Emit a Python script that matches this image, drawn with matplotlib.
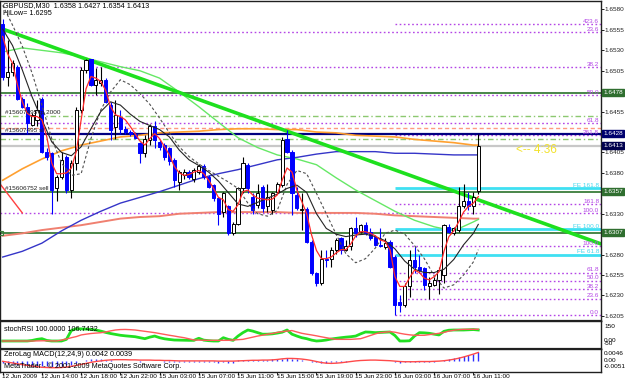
import numpy as np
import matplotlib
matplotlib.use("Agg")
import matplotlib.pyplot as plt
from matplotlib.transforms import blended_transform_factory as blend

plt.rcParams['font.family'] = ['Liberation Sans', 'DejaVu Sans']

# ---------------- data ----------------
title_text = "GBPUSD,M30  1.6358 1.6427 1.6354 1.6413"
hilow_text = "HiLow= 1.6295"
time_labels = ["12 Jun 2009", "12 Jun 14:00", "12 Jun 18:00", "12 Jun 22:00",
               "15 Jun 03:00", "15 Jun 07:00", "15 Jun 11:00", "15 Jun 15:00",
               "15 Jun 19:00", "15 Jun 23:00", "16 Jun 03:00", "16 Jun 07:00",
               "16 Jun 11:00"]

opens = [1.6562,1.6497,1.6504,1.6510,1.6471,1.6461,1.6439,1.6445,1.6471,1.6406,
 1.6404,1.6361,1.6375,1.6400,1.6359,1.6392,1.6457,1.6506,1.6519,1.6487,
 1.6490,1.6494,1.6463,1.6436,1.6449,1.6434,1.6430,1.6428,1.6416,1.6404,
 1.6420,1.6438,1.6418,1.6414,1.6410,1.6396,1.6369,1.6377,1.6381,1.6373,
 1.6381,1.6388,1.6375,1.6365,1.6349,1.6332,1.6339,1.6306,1.6318,1.6361,
 1.6390,1.6351,1.6341,1.6363,1.6339,1.6334,1.6357,1.6365,1.6422,1.6406,
 1.6353,1.6334,1.6336,1.6296,1.6257,1.6245,1.6275,1.6275,1.6285,1.6300,
 1.6286,1.6290,1.6312,1.6308,1.6316,1.6308,1.6302,1.6292,1.6289,1.6296,
 1.6277,1.6222,1.6218,1.6241,1.6273,1.6265,1.6263,1.6241,1.6243,1.6249,
 1.6255,1.6314,1.6306,1.6310,1.6339,1.6345,1.6339,1.6358]
highs = [1.6568,1.6543,1.6518,1.6512,1.6473,1.6465,1.6453,1.6469,1.6473,1.6410,
 1.6406,1.6377,1.6406,1.6402,1.6396,1.6461,1.6510,1.6520,1.6520,1.6508,
 1.6510,1.6496,1.6467,1.6469,1.6457,1.6437,1.6432,1.6430,1.6418,1.6426,
 1.6440,1.6443,1.6420,1.6416,1.6412,1.6398,1.6383,1.6385,1.6383,1.6386,
 1.6391,1.6391,1.6377,1.6367,1.6351,1.6357,1.6341,1.6320,1.6363,1.6400,
 1.6392,1.6355,1.6367,1.6365,1.6367,1.6357,1.6369,1.6424,1.6432,1.6408,
 1.6363,1.6355,1.6338,1.6298,1.6259,1.6285,1.6285,1.6289,1.6300,1.6302,
 1.6298,1.6314,1.6326,1.6318,1.6320,1.6312,1.6304,1.6312,1.6300,1.6298,
 1.6279,1.6230,1.6245,1.6285,1.6290,1.6279,1.6265,1.6253,1.6253,1.6265,
 1.6318,1.6318,1.6314,1.6363,1.6367,1.6357,1.6357,1.6427]
lows = [1.6494,1.6486,1.6498,1.6469,1.6459,1.6428,1.6437,1.6437,1.6404,1.6396,
 1.6330,1.6345,1.6373,1.6355,1.6349,1.6384,1.6453,1.6502,1.6486,1.6475,
 1.6486,1.6465,1.6420,1.6422,1.6428,1.6428,1.6425,1.6421,1.6392,1.6400,
 1.6414,1.6410,1.6408,1.6396,1.6390,1.6363,1.6359,1.6373,1.6373,1.6369,
 1.6379,1.6373,1.6361,1.6345,1.6316,1.6326,1.6304,1.6304,1.6316,1.6355,
 1.6355,1.6330,1.6337,1.6332,1.6332,1.6330,1.6355,1.6363,1.6404,1.6328,
 1.6334,1.6310,1.6294,1.6255,1.6241,1.6243,1.6265,1.6265,1.6281,1.6281,
 1.6284,1.6286,1.6302,1.6306,1.6304,1.6298,1.6290,1.6289,1.6287,1.6263,
 1.6206,1.6210,1.6216,1.6228,1.6257,1.6257,1.6237,1.6226,1.6241,1.6232,
 1.6245,1.6306,1.6304,1.6308,1.6337,1.6335,1.6330,1.6354]
closes = [1.6497,1.6504,1.6514,1.6471,1.6461,1.6441,1.6451,1.6457,1.6406,1.6400,
 1.6359,1.6375,1.6396,1.6359,1.6392,1.6457,1.6506,1.6518,1.6487,1.6494,
 1.6494,1.6467,1.6432,1.6451,1.6434,1.6430,1.6428,1.6423,1.6404,1.6422,
 1.6438,1.6420,1.6412,1.6400,1.6394,1.6371,1.6381,1.6381,1.6375,1.6383,
 1.6389,1.6375,1.6363,1.6349,1.6330,1.6355,1.6306,1.6318,1.6361,1.6392,
 1.6361,1.6334,1.6355,1.6337,1.6351,1.6355,1.6367,1.6420,1.6406,1.6355,
 1.6337,1.6336,1.6296,1.6257,1.6245,1.6275,1.6273,1.6285,1.6298,1.6285,
 1.6290,1.6312,1.6306,1.6316,1.6306,1.6300,1.6292,1.6291,1.6294,1.6265,
 1.6218,1.6218,1.6241,1.6273,1.6265,1.6261,1.6243,1.6245,1.6249,1.6261,
 1.6316,1.6308,1.6312,1.6339,1.6345,1.6339,1.6351,1.6413]

# fast moving average (every bar)
ma_fast = [1.6547,1.6526,1.6514,1.6488,1.6467,1.6453,1.6449,1.6449,1.6445,1.6424,
 1.6392,1.6379,1.6379,1.6380,1.6386,1.6406,1.6445,1.6483,1.6498,1.6496,
 1.6492,1.6481,1.6461,1.6451,1.6449,1.6445,1.6437,1.6428,1.6419,1.6414,
 1.6422,1.6428,1.6422,1.6412,1.6402,1.6388,1.6380,1.6377,1.6378,1.6381,
 1.6383,1.6379,1.6371,1.6361,1.6350,1.6347,1.6335,1.6333,1.6341,1.6357,
 1.6359,1.6353,1.6349,1.6348,1.6347,1.6348,1.6353,1.6371,1.6386,1.6381,
 1.6359,1.6345,1.6330,1.6304,1.6285,1.6275,1.6275,1.6277,1.6282,1.6286,
 1.6286,1.6293,1.6303,1.6308,1.6308,1.6306,1.6303,1.6298,1.6296,1.6286,
 1.6253,1.6241,1.6241,1.6252,1.6261,1.6258,1.6251,1.6249,1.6253,1.6259,
 1.6284,1.6302,1.6309,1.6320,1.6332,1.6339,1.6343,1.6351]

# medium averages, read every second bar (bars 0,2,...,96,97)
ma_mid_black = [1.6556,1.6536,1.6506,1.6473,1.6445,1.6418,1.6405,1.6401,1.6412,1.6434,
 1.6455,1.6467,1.6463,1.6452,1.6443,1.6438,1.6433,1.6424,1.6408,1.6396,
 1.6389,1.6381,1.6370,1.6356,1.6342,1.6339,1.6344,1.6349,1.6354,1.6361,
 1.6365,1.6356,1.6330,1.6312,1.6305,1.6302,1.6304,1.6305,1.6302,1.6297,
 1.6287,1.6272,1.6262,1.6258,1.6258,1.6262,1.6274,1.6292,1.6306,1.6317]
ma_mid_dashed = [1.6585,1.6561,1.6535,1.6502,1.6463,1.6422,1.6392,1.6377,1.6379,1.6422,
 1.6457,1.6479,1.6494,1.6488,1.6477,1.6464,1.6447,1.6429,1.6412,1.6400,
 1.6391,1.6383,1.6376,1.6369,1.6361,1.6343,1.6330,1.6327,1.6334,1.6366,
 1.6383,1.6379,1.6355,1.6330,1.6305,1.6281,1.6270,1.6275,1.6288,1.6306,
 1.6310,1.6305,1.6291,1.6275,1.6254,1.6239,1.6243,1.6255,1.6271,1.6286]

# slow averages, read every fourth bar (bars 0,4,...,96,97)
ma_slow_green = [1.6528,1.6533,1.6530,1.6527,1.6522,1.6516,1.6510,1.6505,1.6496,1.6479,
 1.6461,1.6442,1.6423,1.6411,1.6402,1.6397,1.6390,1.6374,1.6359,1.6346,
 1.6333,1.6322,1.6314,1.6309,1.6320,1.6323]
ma_slow_orange = [1.6371,1.6385,1.6397,1.6407,1.6414,1.6419,1.6424,1.6426,1.6429,1.6430,
 1.6431,1.6433,1.6434,1.6434,1.6433,1.6433,1.6430,1.6429,1.6426,1.6425,
 1.6424,1.6421,1.6419,1.6417,1.6414,1.6414]
ma_slow_salmon = [1.6303,1.6306,1.6310,1.6313,1.6316,1.6320,1.6324,1.6326,1.6327,1.6330,
 1.6331,1.6332,1.6332,1.6332,1.6332,1.6331,1.6331,1.6331,1.6331,1.6330,
 1.6328,1.6327,1.6326,1.6325,1.6324,1.6324]
ma_slow_blue = [1.6277,1.6284,1.6294,1.6309,1.6322,1.6333,1.6343,1.6350,1.6357,1.6365,
 1.6373,1.6379,1.6384,1.6390,1.6396,1.6399,1.6403,1.6406,1.6406,1.6406,
 1.6404,1.6404,1.6403,1.6402,1.6402,1.6402]

red_seg_bars = [-0.6, 4.0]
red_seg_prices = [1.6367, 1.6331]

trend_bars = [0, 97]
trend_prices = [1.6556, 1.6347]

fib_upper_labels = ["23.6", "38.2", "50.0", "61.8", "100.0"]
fib_upper_prices = [1.6552, 1.6509, 1.6475, 1.6441, 1.6331]
fib_lower_labels = ["0.0", "23.6", "38.2", "50.0", "61.8", "100.0", "161.8", "261.8", "423.6"]
fib_lower_prices = [1.6206, 1.6226, 1.6238, 1.6248, 1.6258, 1.6290, 1.6342, 1.6426, 1.6562]
fib_lower_start = 80
fe_labels = ["FE 61.8", "FE 100.0", "FE 161.8"]
fe_prices = [1.6280, 1.6311, 1.6361]

order_green = [1.6478, 1.6357, 1.6307]
sl_price = 1.6428
bid_price = 1.6413
tp_dashdot = [1.6450, 1.6422]
pending_dashed = 1.6435
order_texts = ["#15607495 tp 2000", "#15607495 sl", "#15606752 sell"]
order_text_prices = [1.6450, 1.6428, 1.6357]

box_prices = [1.6478, 1.6428, 1.6413, 1.6357, 1.6307]
price_ticks = [1.6580, 1.6555, 1.6530, 1.6505, 1.6455, 1.6405, 1.6380,
               1.6330, 1.6280, 1.6255, 1.6230, 1.6205]

stoch_green = [0,0,0,0,0,0,5,15,21,5,
 0,0,0,15,95,112,110,108,105,100,
 90,78,68,60,52,47,43,39,30,21,
 35,45,30,20,14,9,8,7,6,6,
 25,8,3,0,0,30,15,6,45,76,
 100,90,76,62,62,65,72,80,100,62,
 45,30,21,8,0,3,9,18,24,30,
 35,39,45,65,82,80,76,78,80,82,
 50,0,0,2,45,76,74,70,62,55,
 88,98,100,100,100,102,104,100]
stoch_red = [0,0,0,0,0,0,0,1,2,2,
 1,0,8,18,30,40,55,62,68,72,
 75,82,92,100,104,105,103,100,94,88,
 82,76,68,60,52,45,37,30,20,9,
 8,7,6,6,6,6,6,9,12,15,
 25,35,45,53,62,68,78,85,90,95,
 82,70,62,55,47,38,30,22,15,15,
 15,15,18,21,35,50,65,76,80,85,
 80,70,62,56,52,52,52,58,64,70,
 78,90,98,103,106,106,106,106.7]

macd_main = [-12,-15,-18,-20,-22,-24,-25,-26,-28,-28,
 -30,-28,-26,-24,-20,-12,-4,3,6,6,
 5,3,1,0,-1,-2,-3,-4,-5,-4,
 -3,-3,-4,-5,-6,-8,-8,-8,-7,-6,
 -5,-5,-6,-8,-10,-9,-11,-10,1,4,
 4,3,3,3,4,5,7,8,10,8,
 6,4,0,-5,-9,-10,-10,-9,-7,-6,
 -5,-3,-2,-1,-1,-1,-2,-2,-2,-3,
 -8,-10,-9,-7,-6,-6,-6,-6,-5,-4,
 3,8,12,18,24,28,32,42]
macd_signal = [-4,-8,-12,-16,-20,-24,-27,-30,-33,-34,
 -35,-35,-34,-32,-28,-24,-19,-14,-9,-5,
 -2,1,3,4,4,4,3,3,2,2,
 2,1,1,0,0,-1,-2,-2,-2,-2,
 -2,-2,-2,-2,-3,-3,-3,-3,-2,-1,
 0,1,1,2,2,3,5,8,10,10,
 9,7,4,0,-5,-10,-13,-14,-13,-11,
 -8,-5,-2,0,1,2,2,1,0,-1,
 -3,-5,-6,-6,-6,-5,-5,-5,-4,-3,
 -1,2,6,11,17,24,31,39]
macd_scale = 1e-4

# ---------------- figure layout ----------------
W, H = 625, 382
FS = 4.6
fig = plt.figure(figsize=(W / 100, H / 100), dpi=100)
fig.patch.set_facecolor('white')


def rect(x0, y0, x1, y1):
    return [x0 / W, 1 - y1 / H, (x1 - x0) / W, (y1 - y0) / H]


ax = fig.add_axes(rect(0, 1, 601, 321))
ax_st = fig.add_axes(rect(0, 321, 601, 349))
ax_md = fig.add_axes(rect(0, 349, 601, 372))

XL = (-0.55, 122.03)
for a in (ax, ax_st, ax_md):
    a.set_xlim(*XL)
    a.set_facecolor('white')
    for s in a.spines.values():
        s.set_color('#202020')
        s.set_linewidth(1.0)
    a.set_xticks([])
ax.spines['bottom'].set_linewidth(1.6)
ax_st.spines['bottom'].set_linewidth(1.6)

ax.set_ylim(1.61987, 1.65904)

N = len(closes)
xb = np.arange(N)
o, h, l, c = (np.array(v) for v in (opens, highs, lows, closes))
bull = c >= o
bear = ~bull

# horizontal objects
right = XL[1]
fib_col = '#b446e6'
for p in fib_upper_prices:
    ax.hlines(p, XL[0], right, colors=fib_col, linestyles=(0, (1.2, 1.8)), lw=1.0, zorder=1.5)
for p in fib_lower_prices:
    ax.hlines(p, fib_lower_start, right, colors=fib_col, linestyles=(0, (1.2, 1.8)), lw=1.0, zorder=1.5)
for p in fe_prices:
    ax.hlines(p, fib_lower_start, right, colors='#3fe0f2', lw=2.0, zorder=1.6)
for p in order_green:
    ax.hlines(p, XL[0], right, colors='#3a7d3a', lw=1.3, zorder=1.7)
for p in tp_dashdot:
    ax.hlines(p, XL[0], right, colors='#8cc870', linestyles=(0, (4, 2, 1, 2)), lw=1.0, zorder=1.6)
ax.hlines(pending_dashed, XL[0], right, colors='#ff9a80', linestyles=(0, (3, 2)), lw=1.0, zorder=1.6)
ax.hlines(sl_price, XL[0], right, colors='#000080', lw=1.6, zorder=1.8)
ax.hlines(bid_price, XL[0], right, colors='#c8c8c8', lw=1.6, zorder=1.5)

# long averages
sb = np.r_[np.arange(0, N - 1, 4), N - 1]
mb = np.r_[np.arange(0, N - 1, 2), N - 1]
ax.plot(sb, ma_slow_salmon, color='#f08070', lw=1.4, zorder=2.2)
ax.plot(sb, ma_slow_orange, color='#ffa030', lw=1.2, zorder=2.2)
ax.plot(sb, ma_slow_blue, color='#3535c8', lw=1.0, zorder=2.2)
ax.plot(sb, ma_slow_green, color='#66e866', lw=1.0, zorder=2.2)

# trend line
ax.axline((trend_bars[0], trend_prices[0]), (trend_bars[1], trend_prices[1]),
          color='#1ee01e', lw=2.6, zorder=2.4)
ax.plot(red_seg_bars, red_seg_prices, color='#ff4040', lw=1.0, zorder=2.3)

# candles
ax.vlines(xb[bull], l[bull], h[bull], color='#000000', lw=0.8, zorder=3)
ax.vlines(xb[bear], l[bear], h[bear], color='#0000ff', lw=0.8, zorder=3)
ax.bar(xb[bull], np.maximum(c - o, 0.00004)[bull], bottom=o[bull], width=0.64,
       facecolor='white', edgecolor='black', lw=0.7, zorder=3.1)
ax.bar(xb[bear], (o - c)[bear], bottom=c[bear], width=0.64,
       facecolor='#0000ff', edgecolor='#0000ff', lw=0.7, zorder=3.1)

# short averages
ax.plot(mb, ma_mid_dashed, color='#505050', lw=0.8, ls=(0, (2.5, 2)), zorder=4)
ax.plot(mb, ma_mid_black, color='#252525', lw=0.8, zorder=4)
ax.plot(xb, ma_fast, color='#ff2a2a', lw=0.9, zorder=4.1)

# labels on the chart
tr_r = blend(ax.transAxes, ax.transData)
for lab, p in zip(fib_upper_labels, fib_upper_prices):
    ax.text(0.997, p + 0.00003, lab, transform=tr_r, ha='right', va='bottom',
            fontsize=FS, color=fib_col, zorder=5)
for lab, p in zip(fib_lower_labels, fib_lower_prices):
    ax.text(0.997, p + 0.00003, lab, transform=tr_r, ha='right', va='bottom',
            fontsize=FS, color=fib_col, zorder=5)
for lab, p in zip(fe_labels, fe_prices):
    ax.text(0.997, p + 0.00005, lab, transform=tr_r, ha='right', va='bottom',
            fontsize=FS, color='#3fd8ee', zorder=5)
for lab, p in zip(order_texts, order_text_prices):
    ax.text(0.5, p + 0.00004, lab, ha='left', va='bottom', fontsize=FS,
            color='#202020', zorder=5)
ax.plot([-0.25], [order_green[2]], marker='s', ms=2.5, mfc='none', mec='#3a7d3a',
        mew=0.8, clip_on=False, zorder=5)
ax.text(104.6, bid_price - 0.0005, "<-- 4:36", color='#f2e22c', fontsize=8.5,
        ha='left', va='center', zorder=5)

# price axis
ax.yaxis.tick_right()
ax.set_yticks(price_ticks)
ax.set_yticklabels([f"{p:.4f}" for p in price_ticks], fontsize=FS)
ax.tick_params(axis='y', length=2.0, width=0.7, pad=0.8, colors='#202020')
box_cols = ['#2f6e2f', '#00006e', '#00004e', '#2f6e2f', '#2f6e2f']
for p, col in zip(box_prices, box_cols):
    ax.text(1.0035, p, f"{p:.4f}", transform=tr_r, ha='left', va='center', fontsize=FS,
            color='white', clip_on=False, zorder=10,
            bbox=dict(boxstyle='square,pad=0.15', fc=col, ec=col))

fig.text(3 / W, 1 - 5.5 / H, title_text, fontsize=FS + 0.6, va='center', ha='left')
fig.text(3 / W, 1 - 13.5 / H, hilow_text, fontsize=FS + 0.6, va='center', ha='left')

# stochastic panel
ax_st.set_ylim(-72.7, 181.8)
ax_st.set_yticks([])
ax_st.plot(xb, stoch_red, color='#ff5a5a', lw=1.0, zorder=3)
ax_st.plot(xb, stoch_green, color='#22e022', lw=2.0, zorder=2)
ax_st.text(0.006, 0.68, "stochRSI 100.0000 106.7432", transform=ax_st.transAxes,
           fontsize=FS + 0.6, va='center', ha='left')
fig.text(604 / W, 1 - 326.7 / H, "150", fontsize=FS, va='center')
fig.text(604 / W, 1 - 340.5 / H, "0.00", fontsize=FS, va='center')
fig.text(604 / W, 1 - 343.5 / H, "-50", fontsize=FS, va='center')

# MACD panel
ax_md.set_ylim(-0.00558, 0.00558)
ax_md.set_yticks([])
mm = np.array(macd_main) * macd_scale
ms = np.array(macd_signal) * macd_scale
ax_md.vlines(xb, 0, mm, color='#3030ff', lw=1.0, zorder=2)
ax_md.plot(xb, ms, color='#ff4a4a', lw=1.0, zorder=3)
ax_md.text(0.006, 0.76, "ZeroLag MACD(12,24,9) 0.0042 0.0039", transform=ax_md.transAxes,
           fontsize=FS + 0.6, va='center', ha='left', zorder=5)
ax_md.text(0.006, 0.26, "MetaTrader - \u00a9 2001-2009 MetaQuotes Software Corp.",
           transform=ax_md.transAxes, fontsize=FS + 0.6, va='center', ha='left', zorder=5)
fig.text(603.5 / W, 1 - 353.5 / H, "0.0046", fontsize=FS, va='center')
fig.text(603.5 / W, 1 - 360 / H, "0.00", fontsize=FS, va='center')
fig.text(603.5 / W, 1 - 367 / H, "-0.0051", fontsize=FS, va='center')

# time axis
tick_bars = np.arange(0, 8 * len(time_labels), 8)
ax_md.set_xticks(tick_bars)
ax_md.tick_params(axis='x', length=2.5, width=0.7, labelbottom=False, colors='#202020')
trb = blend(ax_md.transData, ax_md.transAxes)
for b, lab in zip(tick_bars, time_labels):
    ax_md.text(b - 0.15, -0.08, lab, transform=trb, ha='left', va='top', fontsize=FS,
               clip_on=False)

fig.savefig('out.png', dpi=100)
